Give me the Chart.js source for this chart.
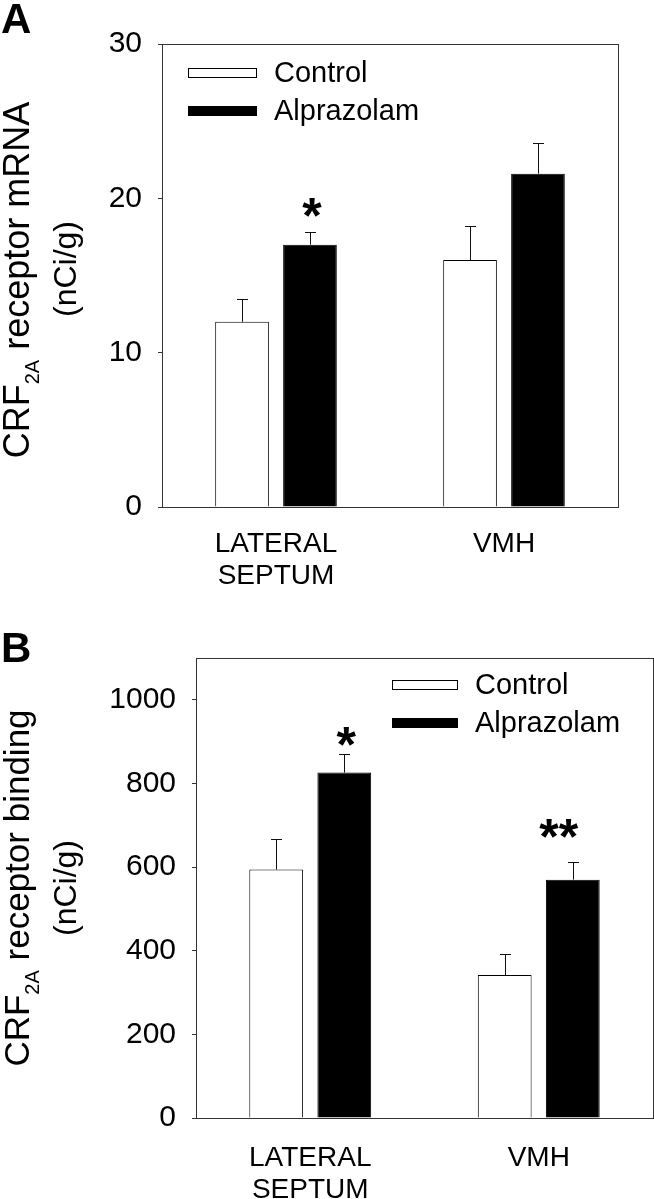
<!DOCTYPE html>
<html>
<head>
<meta charset="utf-8">
<script src="https://cdn.jsdelivr.net/npm/chart.js@4.4.0/dist/chart.umd.min.js"></script>
<style>
  html, body { margin: 0; padding: 0; background: #fff; }
  #wrap { position: relative; width: 654px; height: 1199px; }
  #chartA { position: absolute; left: 0; top: 0; }
  #chartB { position: absolute; left: 0; top: 600px; }
</style>
</head>
<body>
<div id="wrap">
  <canvas id="chartA" width="654" height="600"></canvas>
  <canvas id="chartB" width="654" height="599"></canvas>
</div>
<script>
const regions = [['LATERAL', 'SEPTUM'], 'VMH'];
const seriesNames = ['Control', 'Alprazolam'];

// A: CRF2A receptor mRNA (nCi/g)
const mrnaControl = [12.0, 16.0];
const mrnaControlErr = [13.5, 18.2];
const mrnaAlpraz = [17.0, 21.6];
const mrnaAlprazErr = [17.8, 23.6];
const mrnaSig = ['*', ''];
const mrnaSigAt = [19.4, null];
const mrnaTicks = [0, 10, 20, 30];

// B: CRF2A receptor binding (nCi/g)
const bindControl = [594, 342];
const bindControlErr = [668, 391];
const bindAlpraz = [826, 570];
const bindAlprazErr = [870, 611];
const bindSig = ['*', '**'];
const bindSigAt = [912, 692];
const bindTicks = [0, 200, 400, 600, 800, 1000];

const FONT = "'Liberation Sans', Arial, Helvetica, sans-serif";
const LINE = '#333';

// rotated y title, parts = [[text, size, shift], ...]
function drawRotated(ctx, parts, baseX, centerY) {
  const widths = parts.map(([text, size]) => {
    ctx.font = size + 'px ' + FONT;
    return ctx.measureText(text).width;
  });
  const total = widths.reduce((a, b) => a + b, 0);
  ctx.save();
  ctx.translate(baseX, centerY);
  ctx.rotate(-Math.PI / 2);
  ctx.textBaseline = 'alphabetic';
  ctx.textAlign = 'left';
  ctx.fillStyle = '#000';
  let x = -total / 2;
  parts.forEach(([text, size, shift], i) => {
    ctx.font = size + 'px ' + FONT;
    ctx.fillText(text, x, shift || 0);
    x += widths[i];
  });
  ctx.restore();
}

function extrasFor(cfg) {
  return {
    id: 'extras',
    afterDatasetsDraw(chart) {
      const ctx = chart.ctx;
      const { left, right, top, bottom } = chart.chartArea;
      const yS = chart.scales.y;
      ctx.save();

      // frame
      ctx.strokeStyle = LINE;
      ctx.lineWidth = 1;
      ctx.strokeRect(left + 0.5, top + 0.5, right - left, bottom - top);

      // error bars (upper only)
      ctx.strokeStyle = '#111';
      [cfg.controlErr, cfg.alprazErr].forEach((errs, di) => {
        chart.getDatasetMeta(di).data.forEach((bar, i) => {
          const x = Math.round(bar.x) + 0.5;
          const ye = Math.round(yS.getPixelForValue(errs[i])) + 0.5;
          ctx.beginPath();
          ctx.moveTo(x, bar.y);
          ctx.lineTo(x, ye);
          ctx.moveTo(x - 5.5, ye);
          ctx.lineTo(x + 5.5, ye);
          ctx.stroke();
        });
      });

      // significance marks over the alprazolam bars
      ctx.fillStyle = '#000';
      ctx.font = 'bold 50px ' + FONT;
      ctx.textAlign = 'center';
      ctx.textBaseline = 'alphabetic';
      chart.getDatasetMeta(1).data.forEach((bar, i) => {
        const s = cfg.sig[i];
        if (!s) return;
        const m = ctx.measureText(s);
        const cy = yS.getPixelForValue(cfg.sigAt[i]);
        const y = cy + (m.actualBoundingBoxAscent - m.actualBoundingBoxDescent) / 2;
        ctx.fillText(s, bar.x + cfg.sigShift[i], y);
      });

      // legend inside plot
      const L = cfg.legend;
      ctx.font = '29px ' + FONT;
      ctx.textAlign = 'left';
      ctx.textBaseline = 'middle';
      seriesNames.forEach((name, i) => {
        const by = L.y + i * L.gap;
        ctx.fillStyle = chart.data.datasets[i].backgroundColor;
        ctx.fillRect(L.x, by, L.w, L.h);
        ctx.strokeStyle = '#000';
        ctx.strokeRect(L.x + 0.5, by + 0.5, L.w - 1, L.h - 1);
        ctx.fillStyle = '#000';
        ctx.fillText(name, L.x + L.w + 17, by + L.h / 2 + 1);
      });

      // panel letter
      ctx.font = 'bold 42px ' + FONT;
      ctx.textBaseline = 'alphabetic';
      ctx.fillText(cfg.letter, 1, cfg.letterY);
      ctx.restore();

      // y titles
      drawRotated(ctx, cfg.title, 29, cfg.titleY);
      drawRotated(ctx, [['(nCi/g)', 32, 0]], 76, cfg.unitY);
    }
  };
}

function makeChart(id, cfg) {
  return new Chart(document.getElementById(id), {
    type: 'bar',
    data: {
      labels: regions,
      datasets: [
        { label: seriesNames[0], data: cfg.control, backgroundColor: '#ffffff', borderColor: '#000', borderWidth: 1 },
        { label: seriesNames[1], data: cfg.alpraz, backgroundColor: '#000000', borderColor: '#000', borderWidth: 1 }
      ]
    },
    options: {
      responsive: false,
      animation: false,
      events: [],
      datasets: { bar: { categoryPercentage: 0.596, barPercentage: 0.79 } },
      layout: { padding: cfg.pad },
      scales: {
        x: {
          afterFit: s => { s.height = cfg.xHeight; },
          grid: { display: false },
          border: { display: true, color: LINE },
          ticks: {
            color: '#000', padding: cfg.xPad, maxRotation: 0, autoSkip: false,
            font: { family: FONT, size: 28, lineHeight: 1.145 }
          }
        },
        y: {
          min: 0, max: cfg.max,
          afterFit: s => { s.width = cfg.yWidth; },
          afterBuildTicks: s => { s.ticks = cfg.ticks.map(v => ({ value: v })); },
          grid: { drawOnChartArea: false, drawTicks: true, tickLength: 4, color: LINE },
          border: { display: true, color: LINE },
          ticks: {
            color: '#000', padding: 16, font: { family: FONT, size: 30 },
            callback: v => String(v)
          }
        }
      },
      plugins: {
        legend: { display: false },
        tooltip: { enabled: false }
      }
    },
    plugins: [extrasFor(cfg)]
  });
}

makeChart('chartA', {
  control: mrnaControl, controlErr: mrnaControlErr,
  alpraz: mrnaAlpraz, alprazErr: mrnaAlprazErr,
  sig: mrnaSig, sigAt: mrnaSigAt, sigShift: [2, 0],
  max: 30, ticks: mrnaTicks,
  pad: { top: 44, right: 36, left: 0, bottom: 0 },
  yWidth: 162, xHeight: 93, xPad: 13,
  legend: { x: 188, y: 68, w: 69, h: 10, gap: 38 },
  letter: 'A', letterY: 33,
  title: [['CRF', 36, 0], ['2A', 20, 10], [' receptor mRNA', 36, 0]],
  titleY: 280, unitY: 269
});

makeChart('chartB', {
  control: bindControl, controlErr: bindControlErr,
  alpraz: bindAlpraz, alprazErr: bindAlprazErr,
  sig: bindSig, sigAt: bindSigAt, sigShift: [2, -14],
  max: 1100, ticks: bindTicks,
  pad: { top: 58, right: 1, left: 0, bottom: 0 },
  yWidth: 196, xHeight: 81, xPad: 16,
  legend: { x: 392, y: 80, w: 66, h: 10, gap: 38 },
  letter: 'B', letterY: 62,
  title: [['CRF', 35, 0], ['2A', 20, 10], [' receptor binding', 35, 0]],
  titleY: 288, unitY: 288
});
</script>
</body>
</html>
